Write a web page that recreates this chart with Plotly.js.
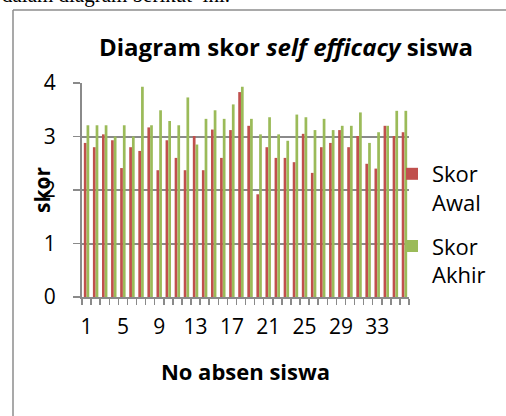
<!DOCTYPE html>
<html>
<head>
<meta charset="utf-8">
<script src="https://cdn.plot.ly/plotly-3.0.1.min.js"></script>
<style>html,body{margin:0;padding:0;background:#fff;}#chart{width:506px;height:416px;}</style>
</head>
<body>
<div id="chart"></div>
<script>
const students = Array.from({length: 36}, (_, i) => i + 1);
const skorAwal = [2.88,2.80,3.04,2.93,2.41,2.80,2.73,3.17,2.37,2.93,2.60,2.37,3.01,2.37,3.13,2.60,3.12,3.83,3.20,1.92,2.80,2.60,2.60,2.52,3.05,2.32,2.80,2.88,3.12,2.80,3.01,2.49,2.40,3.20,3.01,3.08];
const skorAkhir = [3.21,3.21,3.21,3.00,3.21,3.00,3.93,3.21,3.49,3.29,3.21,3.73,2.85,3.33,3.49,3.33,3.60,3.93,3.33,3.04,3.36,3.04,2.92,3.41,3.36,3.12,3.33,3.12,3.20,3.20,3.45,2.88,3.08,3.20,3.48,3.48];
const yTicks = [0, 1, 2, 3, 4];
const xTickVals = [1, 5, 9, 13, 17, 21, 25, 29, 33];

const W = 506, H = 416;
const L = 82, R = 97, T = 83, B = 119;
const pw = W - L - R, ph = H - T - B;
const px = v => (v - L) / pw;
const py = v => (H - B - v) / ph;

const FONT = '"Open Sans", Lato, sans-serif';
const GRID = '#8a8a8a';

const traces = [
  {type: 'bar', name: 'Skor<br>Awal', x: students, y: skorAwal,
   marker: {color: '#C0504D'}, legendgroup: 'a'},
  {type: 'bar', name: 'Skor<br>Akhir', x: students, y: skorAkhir,
   marker: {color: '#9BBB59'}, legendgroup: 'b'}
];

const layout = {
  width: W, height: H,
  margin: {l: L, r: R, t: T, b: B, pad: 0},
  paper_bgcolor: '#fff', plot_bgcolor: '#fff',
  font: {family: FONT, size: 20, color: '#000'},
  barmode: 'group', bargap: 0.4, bargroupgap: 0,
  title: {text: 'Diagram skor <i>self efficacy</i> siswa',
    font: {family: FONT, size: 24, weight: 700, color: '#000'},
    xref: 'container', x: 286 / W, xanchor: 'center',
    yref: 'container', y: 1 - 48 / H, yanchor: 'middle'},
  xaxis: {
    type: 'linear', range: [0.5, 36.5], autorange: false,
    tickmode: 'array', tickvals: xTickVals, ticktext: xTickVals.map(String),
    ticks: '', showgrid: false, zeroline: false,
    showline: true, linecolor: GRID, linewidth: 2,
    ticklabelstandoff: 10,
    tickfont: {family: FONT, size: 21, color: '#000'},
    minor: {ticks: 'outside', tick0: 0.5, dtick: 1, ticklen: 6, tickwidth: 1.5, tickcolor: GRID, showgrid: false},
    title: {text: 'No absen siswa', standoff: 25, font: {family: FONT, size: 22, weight: 700, color: '#000'}},
    automargin: false, fixedrange: true
  },
  yaxis: {
    range: [0, 4], autorange: false,
    tickmode: 'array', tickvals: yTicks, ticktext: yTicks.map(String),
    ticks: 'outside', ticklen: 7, tickwidth: 1.5, tickcolor: GRID,
    showgrid: true, gridcolor: GRID, gridwidth: 2,
    zeroline: false, showline: true, linecolor: GRID, linewidth: 2,
    ticklabelstandoff: 13,
    tickfont: {family: FONT, size: 21, color: '#000'},
    automargin: false, fixedrange: true
  },
  showlegend: true,
  legend: {
    x: px(392), xanchor: 'left', y: py(153), yanchor: 'top',
    valign: 'top', tracegroupgap: 12, traceorder: 'grouped',
    bgcolor: 'rgba(0,0,0,0)', borderwidth: 0,
    font: {family: FONT, size: 22, color: '#000'}
  },
  annotations: [
    {text: '<b>skor</b>', textangle: -90, xref: 'paper', yref: 'paper',
     x: px(42), y: py(190), xanchor: 'center', yanchor: 'middle', showarrow: false,
     font: {family: FONT, size: 21, color: '#000'}},
    {text: 'dalam diagram berikut  ini.', xref: 'paper', yref: 'paper',
     x: px(0), y: py(-5), xanchor: 'left', yanchor: 'middle', showarrow: false,
     font: {family: '"Liberation Serif", "DejaVu Serif", serif', size: 21, color: '#000'}}
  ],
  shapes: [
    {type: 'line', xref: 'paper', yref: 'paper', x0: px(13), x1: px(506), y0: py(10), y1: py(10),
     line: {color: '#8c8c8c', width: 1.5}},
    {type: 'line', xref: 'paper', yref: 'paper', x0: px(13), x1: px(13), y0: py(10), y1: py(416),
     line: {color: '#8c8c8c', width: 1.5}}
  ]
};

Plotly.newPlot('chart', traces, layout, {staticPlot: true, displayModeBar: false});
</script>
</body>
</html>
